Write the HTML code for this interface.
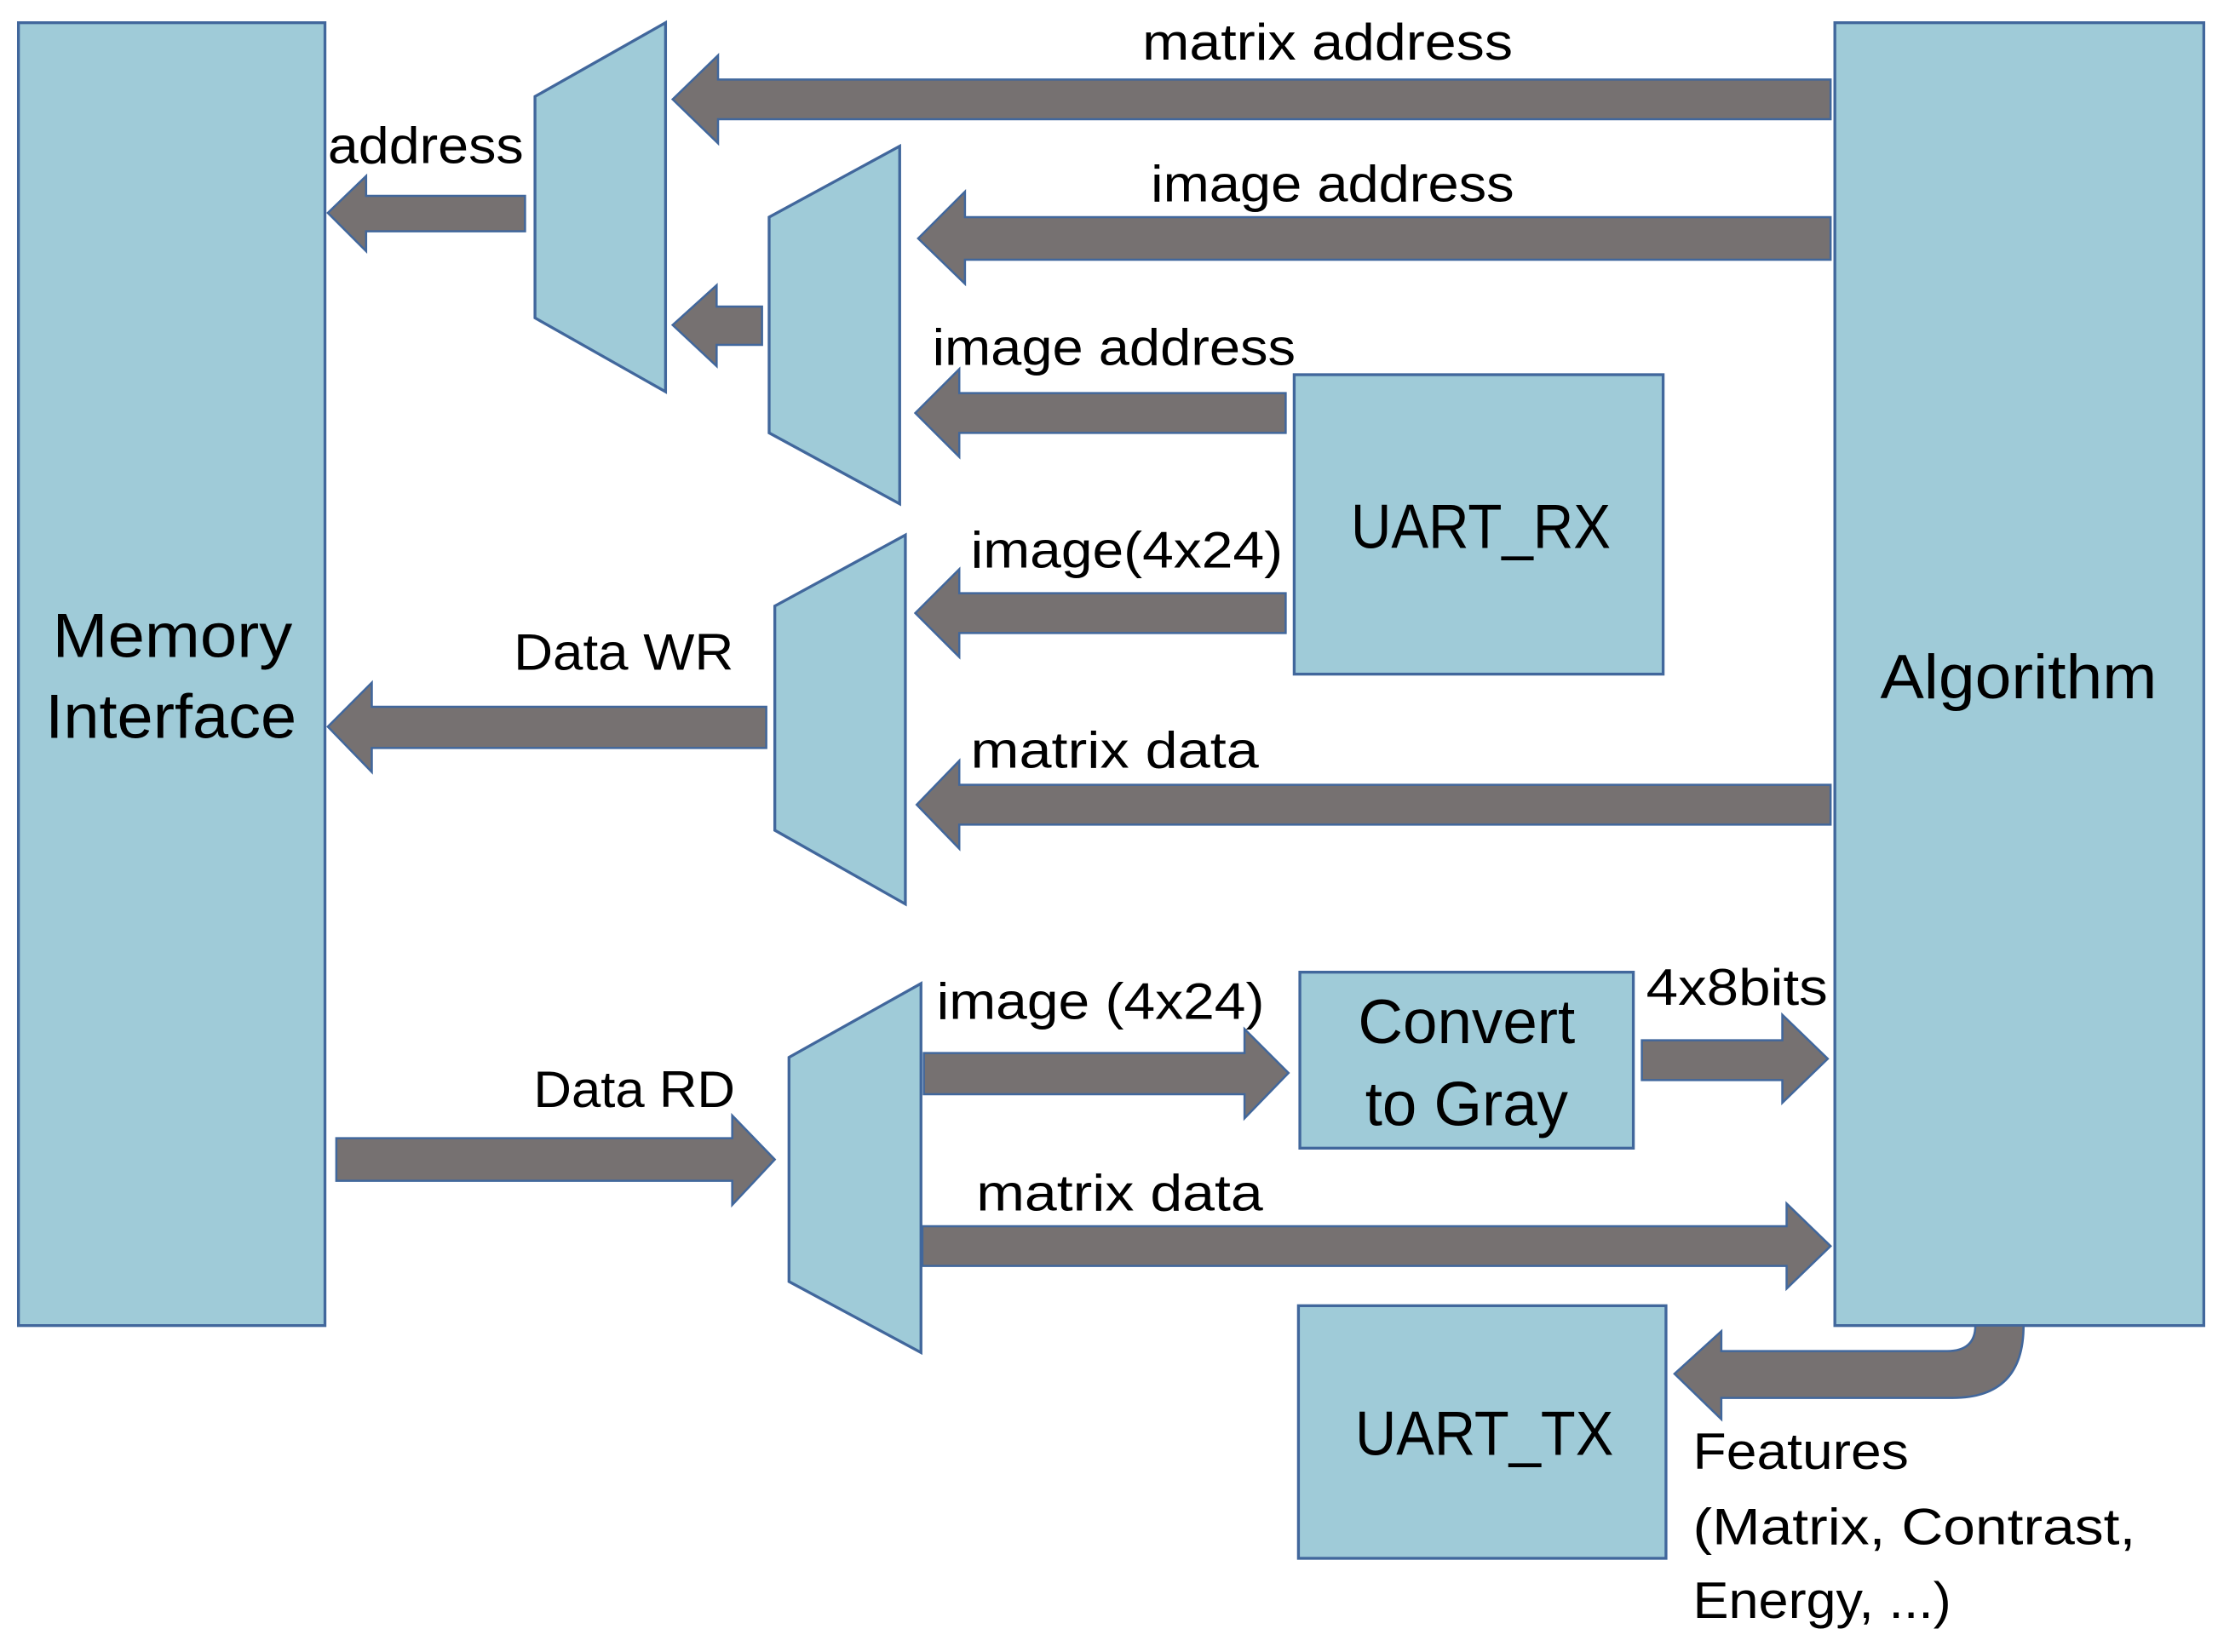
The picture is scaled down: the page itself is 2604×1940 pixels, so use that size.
<!DOCTYPE html>
<html><head><meta charset="utf-8">
<style>
html,body{margin:0;padding:0;background:#fff;}
svg{display:block;}
text{font-family:"Liberation Sans",sans-serif;fill:#000;}
</style></head>
<body>
<svg width="2604" height="1940" viewBox="0 0 1563 1164" preserveAspectRatio="none" xmlns="http://www.w3.org/2000/svg">
<g fill="#9fcbd8" stroke="#41679c" stroke-width="2">
<rect x="13" y="16" width="216" height="918"/>
<rect x="1293" y="16" width="260" height="918"/>
<rect x="912" y="264" width="260" height="211"/>
<rect x="916" y="685" width="235" height="124"/>
<rect x="915" y="920" width="259" height="178"/>
<polygon points="377,68 469,16 469,276 377,224"/>
<polygon points="542,153 634,103 634,355 542,305"/>
<polygon points="546,427 638,377 638,637 546,585"/>
<polygon points="556,745 649,693 649,953 556,903"/>
</g>
<g fill="#767171" stroke="#41679c" stroke-width="1.5">
<!-- left arrows: tip, base, end, cy, bh, hh -->
<polygon points="474,70 506,39 506,56 1290,56 1290,84 506,84 506,101"/>
<polygon points="231,150 258,124 258,138 370,138 370,163 258,163 258,177"/>
<polygon points="474,229 505,201 505,216 537,216 537,243 505,243 505,258"/>
<polygon points="647,168 680,135 680,153 1290,153 1290,183 680,183 680,200"/>
<polygon points="645,291 676,260 676,277 906,277 906,305 676,305 676,322"/>
<polygon points="645,432 676,401 676,418 906,418 906,446 676,446 676,463"/>
<polygon points="231,512 262,481 262,498 540,498 540,527 262,527 262,544"/>
<polygon points="646,567 676,536 676,553 1290,553 1290,581 676,581 676,598"/>
<!-- right arrows -->
<polygon points="908,756 877,725 877,742 651,742 651,771 877,771 877,788"/>
<polygon points="1288,746 1256,715 1256,733 1157,733 1157,761 1256,761 1256,777"/>
<polygon points="546,817 516,786 516,802 237,802 237,832 516,832 516,849"/>
<polygon points="1290,878 1259,848 1259,864 650,864 650,892 1259,892 1259,908"/>
<!-- features curved -->
<path d="M1180,968 L1213,938 L1213,952 L1372,952 Q1392,952 1392,934 L1426,934 Q1426,985 1376,985 L1213,985 L1213,1000 Z"/>
</g>
<g font-size="36">
<text x="805" y="42" textLength="261" lengthAdjust="spacingAndGlyphs">matrix address</text>
<text x="231" y="115" textLength="138" lengthAdjust="spacingAndGlyphs">address</text>
<text x="811" y="142" textLength="256" lengthAdjust="spacingAndGlyphs">image address</text>
<text x="657" y="257" textLength="256" lengthAdjust="spacingAndGlyphs">image address</text>
<text x="684" y="400" textLength="220" lengthAdjust="spacingAndGlyphs">image(4x24)</text>
<text x="362" y="472" textLength="155" lengthAdjust="spacingAndGlyphs">Data WR</text>
<text x="684" y="541" textLength="203" lengthAdjust="spacingAndGlyphs">matrix data</text>
<text x="660" y="718" textLength="231" lengthAdjust="spacingAndGlyphs">image (4x24)</text>
<text x="1160" y="708" textLength="128" lengthAdjust="spacingAndGlyphs">4x8bits</text>
<text x="376" y="780" textLength="142" lengthAdjust="spacingAndGlyphs">Data RD</text>
<text x="688" y="853" textLength="202" lengthAdjust="spacingAndGlyphs">matrix data</text>
<text x="1193" y="1035" textLength="152" lengthAdjust="spacingAndGlyphs">Features</text>
<text x="1193" y="1088" textLength="312" lengthAdjust="spacingAndGlyphs">(Matrix, Contrast,</text>
<text x="1193" y="1140" textLength="182" lengthAdjust="spacingAndGlyphs">Energy, ...)</text>
</g>
<g font-size="44">
<text x="952" y="386" textLength="183" lengthAdjust="spacingAndGlyphs">UART_RX</text>
<text x="1325" y="492" textLength="195" lengthAdjust="spacingAndGlyphs">Algorithm</text>
<text x="37" y="463" textLength="169" lengthAdjust="spacingAndGlyphs">Memory</text>
<text x="32" y="520" textLength="177" lengthAdjust="spacingAndGlyphs">Interface</text>
<text x="957" y="735" textLength="153" lengthAdjust="spacingAndGlyphs">Convert</text>
<text x="962" y="793" textLength="143" lengthAdjust="spacingAndGlyphs">to Gray</text>
<text x="955" y="1025" textLength="182" lengthAdjust="spacingAndGlyphs">UART_TX</text>
</g>
</svg>
</body></html>
